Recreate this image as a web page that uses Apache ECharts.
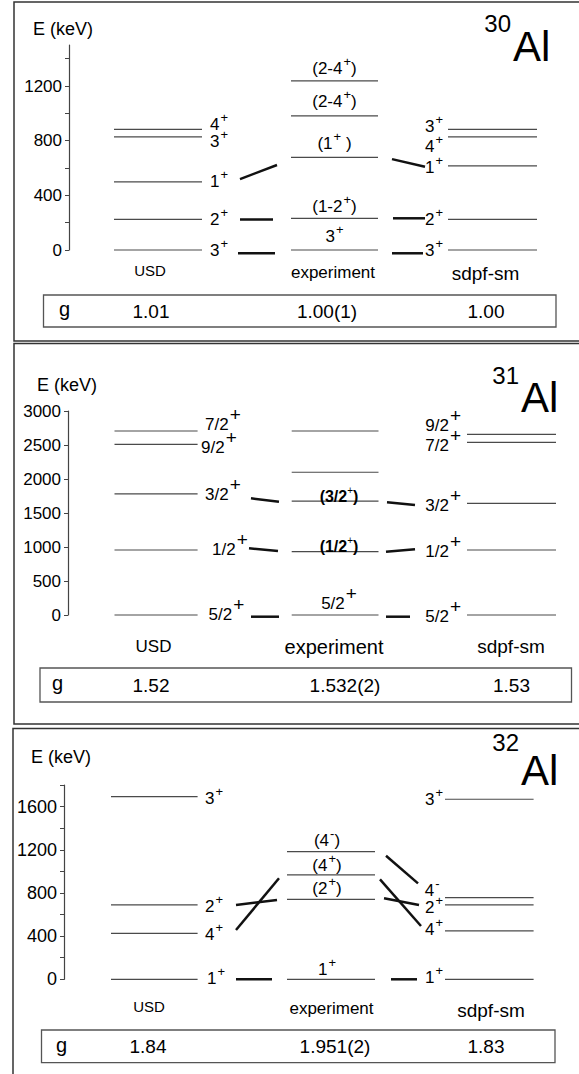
<!DOCTYPE html>
<html>
<head>
<meta charset="utf-8">
<title>Al isotopes: level schemes and g factors</title>
<script src="https://cdn.jsdelivr.net/npm/echarts@6/dist/echarts.min.js"></script>
<style>
  html, body { margin: 0; padding: 0; background: #fff; }
  #chart { width: 579px; height: 1074px; }
</style>
</head>
<body>
<div id="chart"></div>
<script>
// ---------------- data ----------------
// Level energies in keV, spin/parity labels ("^" marks a superscript sign)
const models = ['USD', 'experiment', 'sdpf-sm'];

// 30Al
const al30UsdE = [0, 224, 499, 828, 883];
const al30UsdJ = ['3^+', '2^+', '1^+', '3^+', '4^+'];
const al30ExpE = [0, 232, 678, 982, 1238];
const al30ExpJ = ['3^+', '(1-2^+)', '(1^+ )', '(2-4^+)', '(2-4^+)'];
const al30SmE = [0, 224, 616, 828, 883];
const al30SmJ = ['3^+', '2^+', '1^+', '4^+', '3^+'];
const al30LinkL = [[-24, -24], [224, 224], [519, 622]];
const al30LinkR = [[-24, -24], [232, 232], [665, 609]];
const al30G = ['1.01', '1.00(1)', '1.00'];
const al30AxisLabels = [0, 400, 800, 1200];
const al30AxisTicks = [0, 200, 400, 600, 800, 1000, 1200, 1400];

// 31Al
const al31UsdE = [0, 956, 1780, 2510, 2706];
const al31UsdJ = ['5/2^+', '1/2^+', '3/2^+', '9/2^+', '7/2^+'];
const al31ExpE = [0, 931, 1676, 2099, 2706];
const al31ExpJ = ['5/2^+', '(1/2^+)', '(3/2^+)', '', ''];
const al31SmE = [0, 956, 1642, 2540, 2657];
const al31SmJ = ['5/2^+', '1/2^+', '3/2^+', '7/2^+', '9/2^+'];
const al31LinkL = [[-25, -25], [981, 941], [1716, 1666]];
const al31LinkR = [[-25, -25], [931, 966], [1657, 1618]];
const al31G = ['1.52', '1.532(2)', '1.53'];
const al31AxisLabels = [0, 500, 1000, 1500, 2000, 2500, 3000];
const al31AxisTicks = [0, 500, 1000, 1500, 2000, 2500, 3000];

// 32Al
const al32UsdE = [0, 426, 689, 1692];
const al32UsdJ = ['1^+', '4^+', '2^+', '3^+'];
const al32ExpE = [0, 741, 967, 1183];
const al32ExpJ = ['1^+', '(2^+)', '(4^+)', '(4^-)'];
const al32SmE = [0, 448, 689, 756, 1668];
const al32SmJ = ['1^+', '4^+', '2^+', '4^-', '3^+'];
const al32LinkL = [[0, 0], [688, 735], [457, 936]];
const al32LinkR = [[0, 0], [750, 688], [926, 494], [1145, 889]];
const al32G = ['1.84', '1.951(2)', '1.83'];
const al32AxisLabels = [0, 400, 800, 1200, 1600];
const al32AxisTicks = [0, 200, 400, 600, 800, 1000, 1200, 1400, 1600, 1800];

// ---------------- layout ----------------
const W = 579;
const FONT = '"Liberation Sans", Arial, Helvetica, sans-serif';

const panels = [
  {
    mass: '30',
    sets: [{E: al30UsdE, J: al30UsdJ}, {E: al30ExpE, J: al30ExpJ}, {E: al30SmE, J: al30SmJ}],
    linksL: al30LinkL, linksR: al30LinkR, g: al30G,
    axisLabels: al30AxisLabels, axisTicks: al30AxisTicks,
    frame: [[W, 2], [14, 2], [14, 341], [W, 341]],
    axisX: 69, top: 45, zeroY: 250, yMax: 1500, axisFont: 17,
    cols: [[114, 202], [291, 378], [448, 537]],
    usdX: 210, usdDx: [0, 0, 0, 0, 0], usdDy: [0, 0, 0, 5, -5],
    expX: 334.5, expDy: [-14, -12, -14, -14, -12], expBold: [],
    smX: 443, smDx: [0, 0, 0, 0, 0], smDy: [0, 0, 2, 9.5, -2.5],
    linkLX: [[238, 275], [240, 273], [240, 277]],
    linkRX: [[392, 423], [393, 425], [392, 425]],
    spin: {base: 17, sup: 13, raise: 7, gap: 1},
    eKev: [33, 28.5],
    massPos: [511, 23.5], alPos: [513, 46],
    models: [[150, 270, 15], [333, 272, 17], [485.5, 273, 19]],
    gBox: [43.5, 295, 512.5, 32], gX: 59, gY: 311, gVals: [151, 327, 486]
  },
  {
    mass: '31',
    sets: [{E: al31UsdE, J: al31UsdJ}, {E: al31ExpE, J: al31ExpJ}, {E: al31SmE, J: al31SmJ}],
    linksL: al31LinkL, linksR: al31LinkR, g: al31G,
    axisLabels: al31AxisLabels, axisTicks: al31AxisTicks,
    frame: [[W, 343.5], [14, 343.5], [14, 724], [W, 724]],
    axisX: 68, top: 411, zeroY: 615, yMax: 3000, axisFont: 17,
    cols: [[114.5, 197.6], [291.7, 378.5], [467, 556]],
    usdX: 205, usdDx: [3.5, 7, 0, -4, 0], usdDy: [-1, 0, 1, 3, -6],
    expX: 339, expDy: [-11.7, -5, -4.5, 0, 0], expBold: [false, true, true, false, false],
    smX: 461, smDx: [0, 0, 0, 0, 0], smDy: [1.7, 2, 2.5, 3, -8.6],
    linkLX: [[251, 279], [249, 278], [251, 279]],
    linkRX: [[386, 410], [386, 415], [387, 415]],
    spin: {base: 17, sup: 19, raise: 10, gap: 1},
    spinBold: {base: 16, sup: 10, raise: 6, gap: 0, weight: 'bold'},
    eKev: [37, 385],
    massPos: [519, 375], alPos: [521, 397.5],
    models: [[153.5, 646.7, 17], [334, 646.7, 20], [511, 646.7, 19]],
    gBox: [40, 668, 531.5, 34], gX: 52, gY: 685, gVals: [151, 345, 511.5]
  },
  {
    mass: '32',
    sets: [{E: al32UsdE, J: al32UsdJ}, {E: al32ExpE, J: al32ExpJ}, {E: al32SmE, J: al32SmJ}],
    linksL: al32LinkL, linksR: al32LinkR, g: al32G,
    axisLabels: al32AxisLabels, axisTicks: al32AxisTicks,
    frame: [[W, 728.5], [13, 728.5], [13, 1074]],
    axisX: 64, top: 785, zeroY: 979.3, yMax: 1800, axisFont: 18,
    cols: [[111, 197.6], [287, 375], [445, 533.6]],
    usdX: 205, usdDx: [2, 0, 0, 0], usdDy: [-1, 1, 2, 2],
    expX: 327, expDy: [-10, -11, -9.5, -11], expBold: [],
    smX: 443, smDx: [0, 0, 0, -3.5, 0], smDy: [-2, -1, 3, -7, 0],
    linkLX: [[236, 272], [236, 277], [236, 279]],
    linkRX: [[391, 417], [384, 419], [380, 421], [386, 418]],
    spin: {base: 17, sup: 13, raise: 7, gap: 1},
    eKev: [31, 756.7],
    massPos: [519, 742.5], alPos: [521, 770],
    models: [[149, 1006.7, 15], [331.5, 1008.3, 17], [491, 1010, 19]],
    gBox: [41.5, 1030, 513.5, 32.7], gX: 56, gY: 1046.5, gVals: [148, 335, 486]
  }
];

// ---------------- helpers ----------------
const measureCtx = document.createElement('canvas').getContext('2d');
function textWidth(str, size, weight) {
  measureCtx.font = (weight || 'normal') + ' ' + size + 'px ' + FONT;
  return measureCtx.measureText(str).width;
}

// "(2-4^+)" -> runs of normal text and superscript signs
function splitSpin(label) {
  const runs = [];
  let buf = '';
  for (let k = 0; k < label.length; k++) {
    if (label[k] === '^') {
      if (buf) runs.push({t: buf, sup: false});
      buf = '';
      runs.push({t: label[k + 1], sup: true});
      k++;
    } else {
      buf += label[k];
    }
  }
  if (buf) runs.push({t: buf, sup: false});
  return runs;
}

// spin label as a row of text elements; y is the centre of the digits
function spinText(label, x, y, anchor, st) {
  const runs = splitSpin(label);
  const weight = st.weight || 'normal';
  let cx = 0;
  const pos = runs.map((r, k) => {
    const p = cx;
    const w = textWidth(r.t, r.sup ? st.sup : st.base, r.sup ? 'normal' : weight);
    const next = runs[k + 1];
    cx += w + (next && next.sup && !r.sup ? st.gap : 0);
    return p;
  });
  const total = cx;
  const x0 = anchor === 'left' ? x : anchor === 'right' ? x - total : x - total / 2;
  return runs.map((r, k) => ({
    type: 'text',
    x: x0 + pos[k],
    y: r.sup ? y - st.raise : y,
    style: {
      text: r.t,
      fontSize: r.sup ? st.sup : st.base,
      fontFamily: FONT,
      fontWeight: r.sup ? 'normal' : weight,
      fill: '#000',
      align: 'left',
      verticalAlign: 'middle'
    }
  }));
}

function plainText(str, x, y, size, align, extra) {
  return Object.assign({
    type: 'text', x: x, y: y, silent: true,
    style: {text: str, fontSize: size, fontFamily: FONT, fill: '#000', align: align, verticalAlign: 'middle'}
  }, extra || {});
}

// ---------------- series ----------------
function levelSeries(pi) {
  const P = panels[pi];
  const data = [];
  P.sets.forEach((set, m) => set.E.forEach((e, i) => data.push([m, e, i])));
  return {
    type: 'custom', xAxisIndex: pi, yAxisIndex: pi, clip: false, silent: true,
    data: data,
    renderItem: function (params, api) {
      const m = api.value(0), e = api.value(1), i = api.value(2);
      const a = api.coord([P.cols[m][0], e]);
      const b = api.coord([P.cols[m][1], e]);
      const children = [{
        type: 'line',
        shape: {x1: a[0], y1: a[1], x2: b[0], y2: b[1]},
        style: {stroke: '#4a4a4a', lineWidth: 1.2}
      }];
      const label = P.sets[m].J[i];
      if (label) {
        let els;
        if (m === 0) {
          els = spinText(label, P.usdX + P.usdDx[i], a[1] + P.usdDy[i], 'left', P.spin);
        } else if (m === 1) {
          const st = P.expBold[i] ? P.spinBold : P.spin;
          els = spinText(label, P.expX, a[1] + P.expDy[i], 'center', st);
        } else {
          els = spinText(label, P.smX + P.smDx[i], a[1] + P.smDy[i], 'right', P.spin);
        }
        children.push.apply(children, els);
      }
      return {type: 'group', children: children};
    }
  };
}

function linkSeries(pi) {
  const P = panels[pi];
  const data = [];
  P.linksL.forEach((l, i) => data.push([0, l[0], l[1], i]));
  P.linksR.forEach((l, i) => data.push([1, l[0], l[1], i]));
  return {
    type: 'custom', xAxisIndex: pi, yAxisIndex: pi, clip: false, silent: true,
    data: data,
    renderItem: function (params, api) {
      const side = api.value(0), i = api.value(3);
      const xs = side === 0 ? P.linkLX[i] : P.linkRX[i];
      const a = api.coord([xs[0], api.value(1)]);
      const b = api.coord([xs[1], api.value(2)]);
      return {
        type: 'line',
        shape: {x1: a[0], y1: a[1], x2: b[0], y2: b[1]},
        style: {stroke: '#111', lineWidth: 2.5}
      };
    }
  };
}

// ---------------- option ----------------
const grids = [], xAxes = [], yAxes = [], series = [], graphics = [];

panels.forEach((P, pi) => {
  grids.push({
    left: P.axisX, top: P.top, width: W - P.axisX, height: P.zeroY - P.top,
    containLabel: false, outerBoundsMode: 'none'
  });
  xAxes.push({gridIndex: pi, type: 'value', min: P.axisX, max: W, show: false});
  yAxes.push({
    gridIndex: pi, type: 'value', min: 0, max: P.yMax, position: 'left',
    axisLine: {show: true, onZero: false, lineStyle: {color: '#444', width: 1.2}},
    axisTick: {show: true, inside: false, length: 4, customValues: P.axisTicks,
               lineStyle: {color: '#444', width: 1}},
    axisLabel: {show: true, customValues: P.axisLabels, fontSize: P.axisFont,
                fontFamily: FONT, color: '#000', margin: 7,
                formatter: function (v) { return String(v); }},
    splitLine: {show: false}
  });
  series.push(levelSeries(pi), linkSeries(pi));

  // panel frame
  graphics.push({
    type: 'polyline', silent: true,
    shape: {points: P.frame},
    style: {stroke: '#333', lineWidth: 1.5, fill: 'none'}
  });
  // axis title
  graphics.push(plainText('E (keV)', P.eKev[0], P.eKev[1], 18, 'left'));
  // nuclide symbol
  graphics.push(plainText(P.mass, P.massPos[0], P.massPos[1], 24, 'right'));
  graphics.push(plainText('Al', P.alPos[0], P.alPos[1], 42, 'left'));
  // model names
  P.models.forEach((mp, m) => graphics.push(plainText(models[m], mp[0], mp[1], mp[2], 'center')));
  // g-factor box
  graphics.push({
    type: 'rect', silent: true,
    shape: {x: P.gBox[0], y: P.gBox[1], width: P.gBox[2], height: P.gBox[3]},
    style: {fill: 'none', stroke: '#555', lineWidth: 1.3}
  });
  graphics.push(plainText('g', P.gX, P.gY - 2, 20, 'left'));
  P.g.forEach((v, m) => graphics.push(plainText(v, P.gVals[m], P.gY, 19, 'center')));
});

const chart = echarts.init(document.getElementById('chart'), null, {renderer: 'svg', width: 579, height: 1074});
chart.setOption({
  animation: false,
  backgroundColor: '#fff',
  grid: grids,
  xAxis: xAxes,
  yAxis: yAxes,
  series: series,
  graphic: {elements: graphics}
});
</script>
</body>
</html>
